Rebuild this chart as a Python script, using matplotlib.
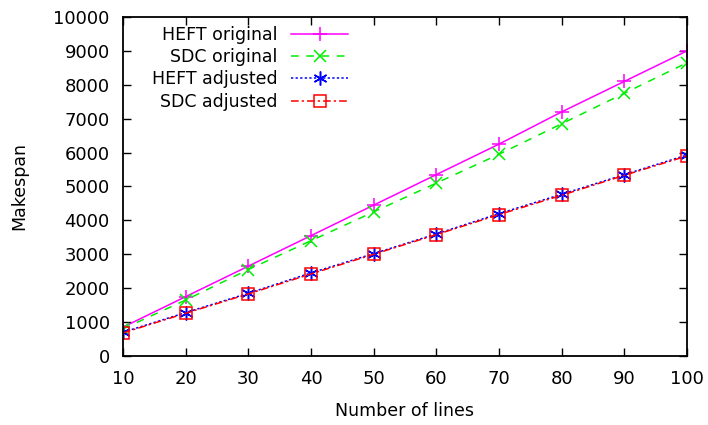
import matplotlib
matplotlib.use("Agg")
import matplotlib.pyplot as plt

lines = [10, 20, 30, 40, 50, 60, 70, 80, 90, 100]
heft_original = [850, 1750, 2650, 3550, 4450, 5350, 6250, 7200, 8100, 9000]
sdc_original = [800, 1650, 2550, 3400, 4250, 5100, 5950, 6850, 7750, 8650]
heft_adjusted = [700, 1280, 1850, 2450, 3020, 3600, 4200, 4770, 5350, 5930]
sdc_adjusted = [680, 1260, 1830, 2420, 3000, 3580, 4170, 4740, 5330, 5900]

plt.rcParams["font.family"] = ["DejaVu Sans"]
plt.rcParams["font.size"] = 12.5

fig = plt.figure(figsize=(7.08, 4.25), dpi=100)
ax = fig.add_axes([0.1737, 0.1624, 0.7966, 0.7976])

ax.plot(lines, heft_original, color="#ff00ff", lw=1.1, ls="-", marker="+", ms=10, mew=1.1, label="HEFT original")
ax.plot(lines, sdc_original, color="#00ee00", lw=1.1, ls=(0, (5, 5)), marker="x", ms=9, mew=1.1, label="SDC original")
ax.plot(lines, heft_adjusted, color="#0000ff", lw=1.1, ls=(0, (1.5, 1.5)), marker=(6, 2, 0), ms=10, mew=1.1, label="HEFT adjusted")
ax.plot(lines, sdc_adjusted, color="#ff0000", lw=1.1, ls=(0, (5, 2, 1.5, 2)), marker="s", ms=8.5, mew=1.1,
        mfc="none", label="SDC adjusted")

ax.set_xlim(10, 100)
ax.set_ylim(0, 10000)
ax.set_xticks(lines)
ax.set_yticks(range(0, 10001, 1000))
ax.tick_params(direction="in", length=6, width=1, top=True, right=True, labelsize=13)
ax.tick_params(axis="y", pad=9.5)
ax.tick_params(axis="x", pad=10)
for s in ax.spines.values():
    s.set_linewidth(1.3)

ax.set_xlabel("Number of lines", fontsize=12.5)
ax.set_ylabel("Makespan", fontsize=12.5)
ax.xaxis.set_label_coords(0.5, -0.135)
ax.yaxis.set_label_coords(-0.168, 0.5)

ax.legend(loc="upper right", bbox_to_anchor=(0.415, 1.0), frameon=False, markerfirst=False,
          handlelength=3.3, handletextpad=0.8, labelspacing=0.25, borderaxespad=0.2, borderpad=0.3)

fig.savefig("out.png", dpi=100, facecolor="white")
